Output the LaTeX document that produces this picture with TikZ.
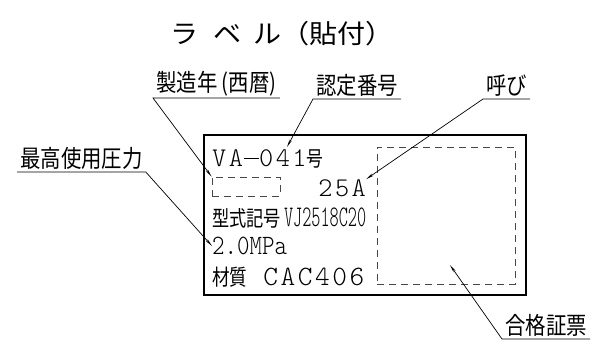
\documentclass[tikz,border=0pt]{standalone}
\usepackage{fontspec}
\usepackage{tikz}
\usetikzlibrary{positioning,arrows.meta}
\setmainfont{Noto Sans CJK JP}
\newfontfamily\jpn{Noto Sans CJK JP}[FakeStretch=0.85]
\newfontfamily\jpnc{Noto Sans CJK JP}[FakeStretch=0.8]
\newfontfamily\jpnw{Noto Sans CJK JP}[FakeStretch=1.08]
\newfontfamily\latw{lmmonolt10-regular}[Extension=.otf,LetterSpace=9]
\newfontfamily\latm{lmmonolt10-regular}[Extension=.otf,FakeStretch=0.85]
\newfontfamily\latn{lmmonolt10-regular}[Extension=.otf,FakeStretch=0.58]
\newcommand\longdash{\makebox[0.6em]{\rule[0.28em]{0.55em}{0.7pt}}}

\begin{document}
\begin{tikzpicture}[x=1pt,y=-1pt,
                    lead/.style={line width=0.7pt,-{Stealth[length=8pt,width=2.6pt]}},
                    tag/.style={inner xsep=3pt,inner ysep=2pt,font=\jpn\fontsize{24}{24}\selectfont},
                    dash box/.style={draw=black!72,dash pattern=on 7pt off 5pt,line width=0.9pt,inner sep=0pt},
                    row/.style={anchor=west,inner sep=0pt}]
  \useasboundingbox (0,0) rectangle (597,343);

  \node[anchor=west,inner sep=0pt] (title) at (170,34) {\jpnw\fontsize{26}{26}\selectfont ラ\hspace{15pt}ベ\hspace{12pt}ル（貼付）};

  % label plate
  \node[draw,line width=1.2pt,minimum width=322pt,minimum height=160pt,inner sep=0pt] (plate) at (365,215) {};
  \node[dash box,minimum width=138pt,minimum height=137pt] (cert) at (446,215.5) {};
  \node[dash box,minimum width=68pt,minimum height=19pt] (year) at (246,186.5) {};

  \node[row] (va) at (212,159) {\latw\fontsize{27}{27}\selectfont VA\longdash 041\jpnc\fontsize{21}{21}\selectfont 号};
  \node[row,anchor=east] (size) at (366,188) {\latw\fontsize{27}{27}\selectfont 25A};
  \node[row] (model) at (212,218) {\jpnc\fontsize{21.5}{22}\selectfont 型式記号\hspace{3pt}\latn\fontsize{30}{30}\selectfont VJ2518C20};
  \node[row] (press) at (212,246) {\latm\fontsize{28}{28}\selectfont 2.0MPa};
  \node[row] (mat) at (212,277) {\jpnc\fontsize{22}{22}\selectfont 材質\hspace{16pt}\latw\fontsize{28}{28}\selectfont CAC406};

  \coordinate (num) at (287,147);
  \coordinate (ticket) at (450,265);

  % call-outs
  \node[tag,anchor=south west] (year lbl) at (153,98) {製造年 (西暦)};
  \node[tag,anchor=south west] (num lbl) at (313,99) {認定番号};
  \node[tag,anchor=south west] (size lbl) at (483,99) {呼び};
  \node[tag,anchor=south west] (press lbl) at (17,172) {最高使用圧力};
  \node[tag,anchor=south west] (cert lbl) at (502,339) {合格証票};

  \draw[lead] (year lbl.south east) -- (year lbl.south west) -- (year.north west);
  \draw[lead] (num lbl.south east) -- (num lbl.south west) -- (num);
  \draw[lead] (size lbl.south east) -- (size lbl.south west) -- (size.north east);
  \draw[lead] (press lbl.south west) -- (press lbl.south east) -- (press.west);
  \draw[lead] (cert lbl.south east) -- (cert lbl.south west) -- (ticket);

\end{tikzpicture}
\end{document}
